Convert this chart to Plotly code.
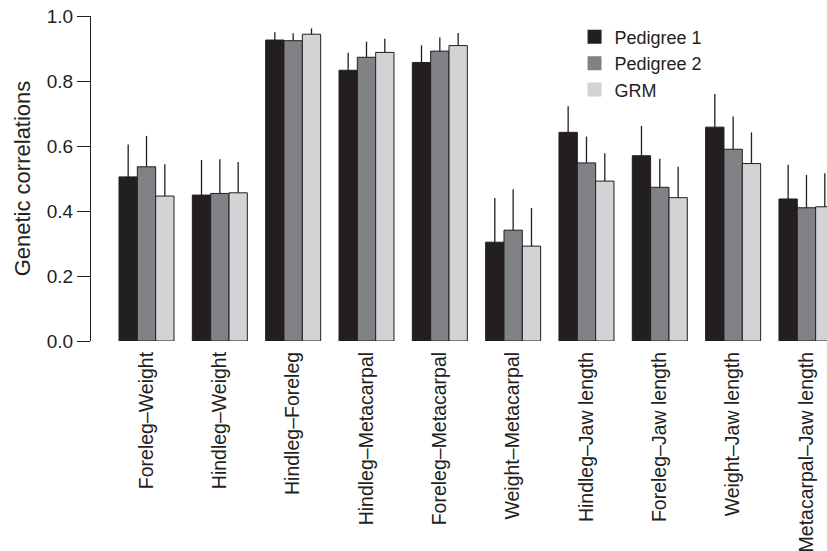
import plotly.graph_objects as go

categories = ["Foreleg–Weight", "Hindleg–Weight", "Hindleg–Foreleg", "Hindleg–Metacarpal",
              "Foreleg–Metacarpal", "Weight–Metacarpal", "Hindleg–Jaw length",
              "Foreleg–Jaw length", "Weight–Jaw length", "Metacarpal–Jaw length"]

pedigree1 = [0.505, 0.449, 0.926, 0.833, 0.857, 0.304, 0.642, 0.570, 0.658, 0.437]
pedigree1_upper = [0.605, 0.557, 0.950, 0.887, 0.910, 0.440, 0.722, 0.662, 0.760, 0.542]

pedigree2 = [0.536, 0.454, 0.924, 0.873, 0.892, 0.341, 0.548, 0.473, 0.590, 0.410]
pedigree2_upper = [0.631, 0.559, 0.947, 0.921, 0.934, 0.467, 0.629, 0.561, 0.691, 0.511]

grm = [0.446, 0.456, 0.944, 0.888, 0.909, 0.292, 0.492, 0.441, 0.546, 0.413]
grm_upper = [0.544, 0.551, 0.962, 0.930, 0.948, 0.409, 0.578, 0.536, 0.642, 0.516]

series_names = ["Pedigree 1", "Pedigree 2", "GRM"]
colors = ["#231f20", "#808285", "#d1d3d4"]
dark = "#231f20"
font_family = "Liberation Sans, Arial, Helvetica, sans-serif"

fig = go.Figure()
for name, vals, upper, col in zip(series_names, [pedigree1, pedigree2, grm],
                                  [pedigree1_upper, pedigree2_upper, grm_upper], colors):
    fig.add_trace(go.Bar(
        x=categories, y=vals, name=name, showlegend=False,
        marker=dict(color=col, line=dict(color=dark, width=1)),
        error_y=dict(type="data", symmetric=False,
                     array=[u - v for u, v in zip(upper, vals)],
                     arrayminus=[0] * len(vals), width=0, thickness=1.3, color=dark),
    ))
for name, col in zip(series_names, colors):
    fig.add_trace(go.Scatter(
        x=[None], y=[None], mode="markers", name=name,
        marker=dict(symbol="square", size=14, color=col, line=dict(width=0)),
    ))

fig.update_layout(
    width=827, height=551,
    margin=dict(l=91, r=0, t=16, b=210, autoexpand=False),
    paper_bgcolor="white", plot_bgcolor="white",
    barmode="group", bargap=0.25, bargroupgap=0,
    font=dict(family=font_family, color=dark),
    legend=dict(x=0.657, y=0.992, xanchor="left", yanchor="top",
                bgcolor="rgba(0,0,0,0)", borderwidth=0,
                font=dict(size=18, color=dark), tracegroupgap=0),
    xaxis=dict(range=[-0.757, 9.28], showline=False, showgrid=False, zeroline=False,
               automargin=False,
               ticks="", tickangle=-90, tickfont=dict(size=19.5, color=dark),
               ticklabelstandoff=6, ticklabeloverflow="allow"),
    yaxis=dict(range=[0, 1], showline=True, linecolor=dark, linewidth=1,
               automargin=False, ticklabeloverflow="allow",
               showgrid=False, zeroline=False, ticks="outside", ticklen=13,
               tickwidth=1, tickcolor=dark, tickvals=[0, 0.2, 0.4, 0.6, 0.8, 1.0],
               ticktext=["0.0", "0.2", "0.4", "0.6", "0.8", "1.0"],
               tickfont=dict(size=19, color=dark),
               title=dict(text="Genetic correlations", font=dict(size=22, color=dark),
                          standoff=10)),
)

# remove the browser's default 8px body margin so the figure fills the window
fig.write_html("out.html", config={"displayModeBar": False},
               post_script="document.body.style.margin='0';document.body.style.overflow='hidden';")
